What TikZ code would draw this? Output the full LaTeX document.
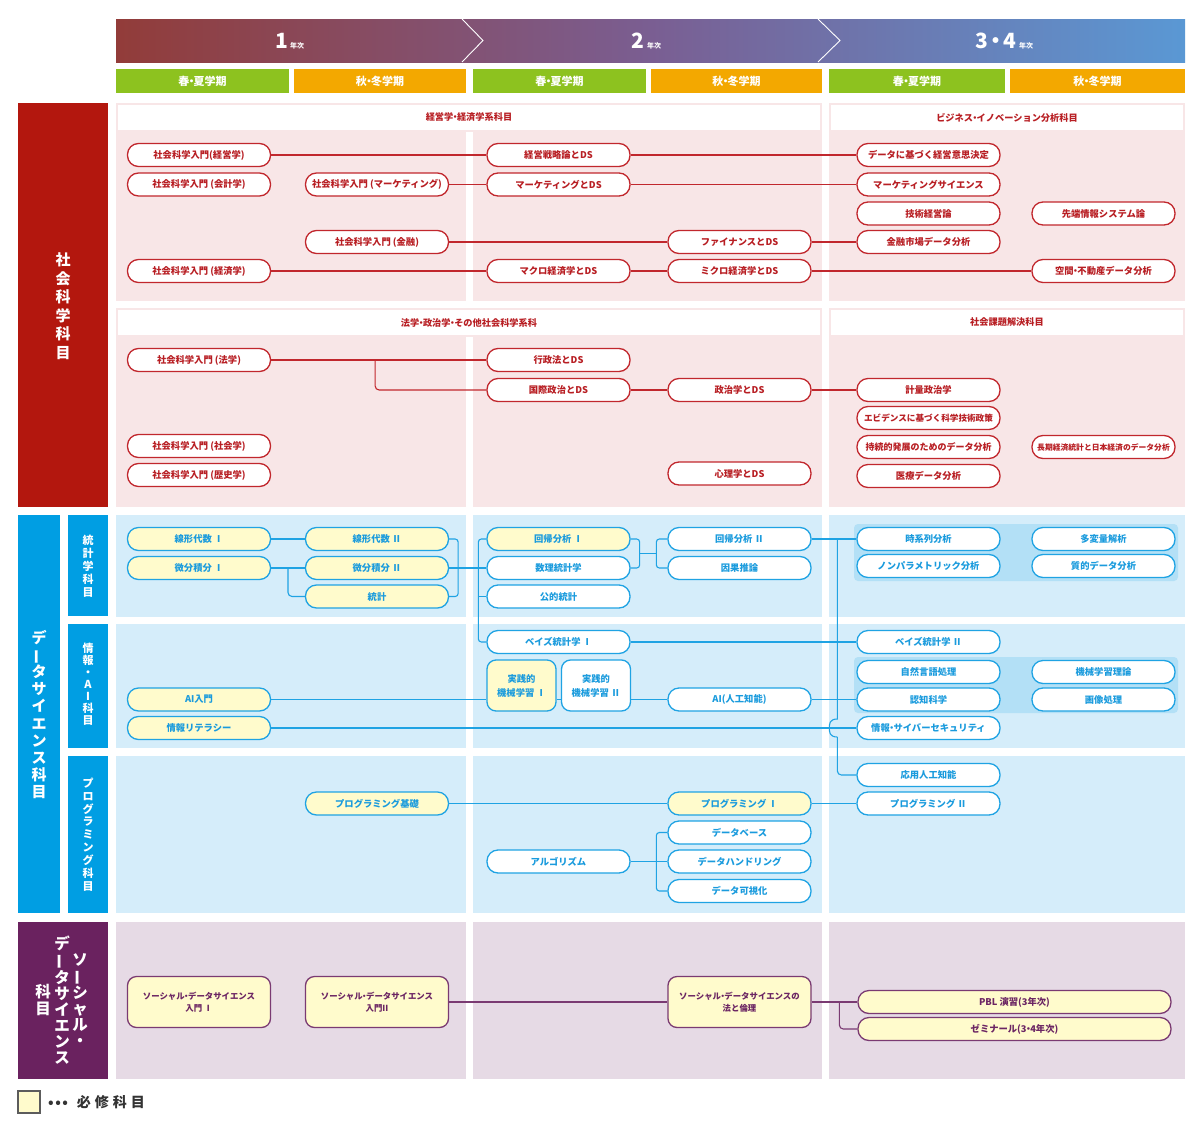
\documentclass[tikz,border=0pt]{standalone}
\usepackage{fontspec}
\setmainfont{Noto Sans CJK JP}
\usetikzlibrary{calc}
\definecolor{rd}{HTML}{C1272D}
\definecolor{rdtxt}{HTML}{B81E23}
\definecolor{rdbar}{HTML}{B3170E}
\definecolor{pk}{HTML}{F8E6E7}
\definecolor{bl}{HTML}{1FA3E3}
\definecolor{bltxt}{HTML}{1A9BDD}
\definecolor{blbar}{HTML}{009EE3}
\definecolor{blpanel}{HTML}{D5EDFA}
\definecolor{blgrp}{HTML}{B3E0F6}
\definecolor{pu}{HTML}{7A3A72}
\definecolor{putxt}{HTML}{6B2563}
\definecolor{pubar}{HTML}{6A225F}
\definecolor{pupanel}{HTML}{E6DAE5}
\definecolor{yl}{HTML}{FFFBCC}
\definecolor{gr}{HTML}{8DC21F}
\definecolor{orng}{HTML}{F3A800}
\definecolor{hdA}{HTML}{923C39}
\definecolor{hdB}{HTML}{7A5E92}
\definecolor{hdC}{HTML}{5A98D4}
\definecolor{lg}{HTML}{333333}
\newcommand{\vbar}{\rotatebox[origin=c]{90}{ー}}
\newcommand{\nd}{\kern-0.3em・\kern-0.3em}
\tikzset{
  base/.style={rounded corners=11pt, minimum width=143pt, minimum height=23pt, inner sep=0pt, line width=1.3pt, font=\fontsize{9.3}{10}\selectfont\bfseries, align=center},
  rn/.style={base, draw=rd, fill=white, text=rdtxt},
  bn/.style={base, draw=bl, fill=white, text=bltxt},
  bny/.style={bn, fill=yl},
  pn/.style={base, draw=pu, fill=yl, text=putxt},
  tallbox/.style={minimum height=51pt, rounded corners=9pt, font=\fontsize{8.4}{12}\selectfont\bfseries},
  mlbox/.style={minimum width=69pt, minimum height=51pt, rounded corners=9pt, font=\fontsize{9.3}{14}\selectfont\bfseries},
  rl/.style={draw=rd, line width=1.1pt},
  bll/.style={draw=bl, line width=1.1pt},
  pl/.style={draw=pu, line width=1.1pt},
  sem/.style={minimum height=24pt, inner sep=0pt, text=white, font=\fontsize{11}{11}\selectfont\bfseries},
  hd/.style={text=rdtxt, font=\fontsize{9.2}{9}\selectfont\bfseries},
  vlab/.style={text=white, align=center, inner sep=0pt},
}
\begin{document}
\begin{tikzpicture}[x=1pt,y=-1pt]
\useasboundingbox (0,0) rectangle (1203,1130);
\fill[white] (0,0) rectangle (1203,1130);

% ---------- header banner
\shade[left color=hdA, right color=hdC, middle color=hdB] (116,19) rectangle (1185,62);
\draw[white, line width=0.9pt] (462,19) -- (483,40.5) -- (462,62);
\draw[white, line width=0.9pt] (818,19) -- (840,40.5) -- (818,62);
\node[anchor=base east, inner sep=0pt, text=white, font=\fontsize{21}{21}\selectfont\bfseries] (y1) at (288,48) {1};
\node[anchor=base west, inner sep=0pt, text=white, font=\fontsize{7}{7}\selectfont\bfseries] (y1t) at (290,48) {年次};
\node[anchor=base east, inner sep=0pt, text=white, font=\fontsize{21}{21}\selectfont\bfseries] (y2) at (644,48) {2};
\node[anchor=base west, inner sep=0pt, text=white, font=\fontsize{7}{7}\selectfont\bfseries] (y2t) at (647,48) {年次};
\node[anchor=base east, inner sep=0pt, text=white, font=\fontsize{21}{21}\selectfont\bfseries] (y3) at (1016,48) {3\kern-0.15em・\kern-0.15em4};
\node[anchor=base west, inner sep=0pt, text=white, font=\fontsize{7}{7}\selectfont\bfseries] (y3t) at (1019,48) {年次};

% ---------- semester bars
\node[sem, fill=gr, minimum width=173pt] (m1) at (202.5,81) {春\nd 夏学期};
\node[sem, fill=orng, minimum width=172pt] (m2) at (380,81) {秋\nd 冬学期};
\node[sem, fill=gr, minimum width=173pt] (m3) at (559.5,81) {春\nd 夏学期};
\node[sem, fill=orng, minimum width=171pt] (m4) at (736.5,81) {秋\nd 冬学期};
\node[sem, fill=gr, minimum width=176pt] (m5) at (917,81) {春\nd 夏学期};
\node[sem, fill=orng, minimum width=175pt] (m6) at (1097.5,81) {秋\nd 冬学期};

% ---------- left bars
\fill[rdbar] (18,103) rectangle (108,507);
\fill[blbar] (18,515) rectangle (60,913);
\fill[blbar] (68,515) rectangle (108,616);
\fill[blbar] (68,624) rectangle (108,748);
\fill[blbar] (68,756) rectangle (108,913);
\fill[pubar] (18,922) rectangle (108,1079);

\node[vlab, font=\fontsize{15}{18.5}\selectfont\bfseries] (lab1) at (63,306) {社\\会\\科\\学\\科\\目};
\node[vlab, font=\fontsize{15}{17.2}\selectfont\bfseries] (lab2) at (39,714.5) {デ\\\vbar\\タ\\サ\\イ\\エ\\ン\\ス\\科\\目};
\node[vlab, font=\fontsize{11}{13}\selectfont\bfseries] (lab3) at (88,566) {統\\計\\学\\科\\目};
\node[vlab, font=\fontsize{11}{12}\selectfont\bfseries] (lab4) at (88,684) {情\\報\\・\\A\\I\\科\\目};
\node[vlab, font=\fontsize{11}{12.9}\selectfont\bfseries] (lab5) at (88,834.5) {プ\\ロ\\グ\\ラ\\ミ\\ン\\グ\\科\\目};
\node[vlab, font=\fontsize{15.5}{16}\selectfont\bfseries] (lab6a) at (80,1000) {ソ\\\vbar\\シ\\ャ\\ル\\・};
\node[vlab, font=\fontsize{15.5}{16}\selectfont\bfseries] (lab6b) at (62,1000) {デ\\\vbar\\タ\\サ\\イ\\エ\\ン\\ス};
\node[vlab, font=\fontsize{15.5}{16.5}\selectfont\bfseries] (lab6c) at (43,1000) {科\\目};

% ---------- pink panels
\fill[pk] (116,103) rectangle (822,301);
\fill[white] (118,105) rectangle (820,130);
\fill[white] (466,132) rectangle (473,301);
\fill[pk] (829,103) rectangle (1185,301);
\fill[white] (831,105) rectangle (1183,130);
\fill[pk] (116,308) rectangle (822,507);
\fill[white] (118,310) rectangle (820,335);
\fill[white] (466,337) rectangle (473,507);
\fill[pk] (829,308) rectangle (1185,507);
\fill[white] (831,310) rectangle (1183,335);
\node[hd] (h1) at (469,117.5) {経営学\nd 経済学系科目};
\node[hd] (h2) at (1007,117.5) {ビジネス\nd イノベーション分析科目};
\node[hd] (h3) at (469,322.5) {法学\nd 政治学\nd その他社会科学系科};
\node[hd] (h4) at (1007,322.5) {社会課題解決科目};

% ---------- blue panels
\foreach \ya/\yb in {515/617, 624/748, 756/913}{
  \fill[blpanel] (116,\ya) rectangle (466,\yb);
  \fill[blpanel] (473,\ya) rectangle (822,\yb);
  \fill[blpanel] (829,\ya) rectangle (1185,\yb);
}
\fill[blgrp, rounded corners=4pt] (854,524) rectangle (1178,581);
\fill[blgrp, rounded corners=4pt] (854,657) rectangle (1178,713);

% ---------- purple panels
\fill[pupanel] (116,922) rectangle (466,1079);
\fill[pupanel] (473,922) rectangle (822,1079);
\fill[pupanel] (829,922) rectangle (1185,1079);

% ---------- social science nodes
\node[rn] (s11) at (199,155) {社会科学入門(経営学)};
\node[rn] (s21) at (558.5,155) {経営戦略論とDS};
\node[rn] (s31) at (928.5,155) {データに基づく経営意思決定};
\node[rn] (s12) at (199,184.5) {社会科学入門 (会計学)};
\node[rn] (s12b) at (377,184.5) {社会科学入門 (マーケティング)};
\node[rn] (s22) at (558.5,184.5) {マーケティングとDS};
\node[rn] (s32) at (928.5,184.5) {マーケティングサイエンス};
\node[rn] (s33) at (928.5,213.5) {技術経営論};
\node[rn] (s34) at (1103.5,213.5) {先端情報システム論};
\node[rn] (s14) at (377,242) {社会科学入門 (金融)};
\node[rn] (s24) at (739.5,242) {ファイナンスとDS};
\node[rn] (s35) at (928.5,242) {金融市場データ分析};
\node[rn] (s15) at (199,271) {社会科学入門 (経済学)};
\node[rn] (s25) at (558.5,271) {マクロ経済学とDS};
\node[rn] (s26) at (739.5,271) {ミクロ経済学とDS};
\node[rn] (s36) at (1103.5,271) {空間\nd 不動産データ分析};

\node[rn] (l1) at (199,360) {社会科学入門 (法学)};
\node[rn] (l2) at (558.5,360) {行政法とDS};
\node[rn] (l3) at (558.5,390) {国際政治とDS};
\node[rn] (l4) at (739.5,390) {政治学とDS};
\node[rn] (l5) at (928.5,390) {計量政治学};
\node[rn, font=\fontsize{8.6}{10}\selectfont\bfseries] (l6) at (928.5,418) {エビデンスに基づく科学技術政策};
\node[rn] (l7) at (199,446) {社会科学入門 (社会学)};
\node[rn, font=\fontsize{9}{10}\selectfont\bfseries] (l8) at (928.5,447) {持続的発展のためのデータ分析};
\node[rn, font=\fontsize{7.8}{10}\selectfont\bfseries] (l9) at (1103.5,447) {長期経済統計と日本経済のデータ分析};
\node[rn] (l10) at (199,475) {社会科学入門 (歴史学)};
\node[rn] (l11) at (739.5,473.5) {心理学とDS};
\node[rn] (l12) at (928.5,476) {医療データ分析};

\draw[rl] (s11) -- (s21) -- (s31);
\draw[rl] (s12b) -- (s22) -- (s32);
\draw[rl] (s14) -- (s24) -- (s35);
\draw[rl] (s15) -- (s25) -- (s26) -- (s36);
\draw[rl] (l1) -- (l2);
\draw[rl, rounded corners=4pt] ($(l1.east)+(104,0)$) |- (l3.west);
\draw[rl] (l3) -- (l4) -- (l5);

% ---------- data science nodes
\node[bny] (d1) at (199,539) {線形代数 Ⅰ};
\node[bny] (d2) at (377,539) {線形代数 Ⅱ};
\node[bny] (d3) at (199,568) {微分積分 Ⅰ};
\node[bny] (d4) at (377,568) {微分積分 Ⅱ};
\node[bny] (d5) at (377,596.5) {統計};
\node[bny] (d6) at (558.5,539) {回帰分析 Ⅰ};
\node[bn] (d7) at (558.5,568) {数理統計学};
\node[bn] (d8) at (558.5,596.5) {公的統計};
\node[bn] (d9) at (739.5,539) {回帰分析 Ⅱ};
\node[bn] (d10) at (739.5,568) {因果推論};
\node[bn] (d11) at (928.5,539) {時系列分析};
\node[bn] (d12) at (928.5,566) {ノンパラメトリック分析};
\node[bn] (d13) at (1103.5,539) {多変量解析};
\node[bn] (d14) at (1103.5,566) {質的データ分析};

\node[bn] (i1) at (558.5,642) {ベイズ統計学 Ⅰ};
\node[bn] (i2) at (928.5,642) {ベイズ統計学 Ⅱ};
\node[bny, mlbox] (i3) at (521.5,685.5) {実践的\\機械学習 Ⅰ};
\node[bn, mlbox] (i4) at (596,685.5) {実践的\\機械学習 Ⅱ};
\node[bny] (i5) at (199,699.5) {AI入門};
\node[bny] (i6) at (199,728) {情報リテラシー};
\node[bn] (i7) at (739.5,699.5) {AI(人工知能)};
\node[bn] (i8) at (928.5,672) {自然言語処理};
\node[bn] (i9) at (1103.5,672) {機械学習理論};
\node[bn] (i10) at (928.5,699.5) {認知科学};
\node[bn] (i11) at (1103.5,699.5) {画像処理};
\node[bn] (i12) at (928.5,728) {情報\nd サイバーセキュリティ};

\node[bn] (p0) at (928.5,775) {応用人工知能};
\node[bny] (p1) at (377,803.5) {プログラミング基礎};
\node[bny] (p2) at (739.5,803.5) {プログラミング Ⅰ};
\node[bn] (p3) at (928.5,803.5) {プログラミング Ⅱ};
\node[bn] (p4) at (558.5,861.5) {アルゴリズム};
\node[bn] (p5) at (739.5,832.5) {データベース};
\node[bn] (p6) at (739.5,861.5) {データハンドリング};
\node[bn] (p7) at (739.5,891) {データ可視化};

\draw[bll] (d1) -- (d2);
\draw[bll] (d3) -- (d4);
\draw[bll, rounded corners=4pt] ($(d3.east)!0.5!(d4.west)$) |- (d5.west);
\draw[bll, rounded corners=3pt] (d2.east) -- ++(9,0) |- (d5.east);
\draw[bll] (d4.east) -- (d7.west);
\draw[bll, rounded corners=3pt] (d6.west) -- ++(-8,0) |- (i1.west);
\draw[bll] (d8.west) -- ++(-8,0);
\draw[bll, rounded corners=3pt] (d6.east) -- ++(9,0) |- (d7.east);
\draw[bll, rounded corners=3pt] (d9.west) -- ++(-11,0) |- (d10.west);
\draw[bll] ($(d6.east)!0.5!(d7.east)+(9,0)$) -- ($(d9.west)!0.5!(d10.west)+(-11,0)$);
\draw[bll] (d9) -- (d11);
\coordinate (J) at ($(d11.west)+(-19,0)$);
\coordinate (K) at (J |- i12.west);
\draw[bll] (J) -- ($(K)+(0,-9)$) .. controls ($(K)+(-8,-9)$) and ($(K)+(-8,-4)$) .. ($(K)+(-8,0)$) .. controls ($(K)+(-8,4)$) and ($(K)+(-8,9)$) .. ($(K)+(0,9)$);
\draw[bll, rounded corners=4pt] ($(K)+(0,9)$) -- (K |- p0.west) -- (p0.west);
\draw[bll] (i1) -- (i2);
\draw[bll] (i5.east) -- (i5.east -| i3.west);
\draw[bll] (i5.east -| i3.east) -- (i5.east -| i4.west);
\draw[bll] (i5.east -| i4.east) -- (i7.west);
\draw[bll] (i7) -- (i10);
\draw[bll] (i6) -- (i12);
\draw[bll] (p1) -- (p2) -- (p3);
\draw[bll] (p4) -- (p6);
\draw[bll, rounded corners=3pt] (p5.west) -- ++(-11,0) |- (p7.west);

% ---------- social data science nodes
\node[pn, tallbox] (q1) at (199,1002) {ソーシャル\nd データサイエンス\\入門 Ⅰ};
\node[pn, tallbox] (q2) at (377,1002) {ソーシャル\nd データサイエンス\\入門II};
\node[pn, tallbox] (q3) at (739.5,1002) {ソーシャル\nd データサイエンスの\\法と倫理};
\node[pn, minimum width=313pt] (q4) at (1014.5,1002) {PBL 演習(3年次)};
\node[pn, minimum width=313pt] (q5) at (1014.5,1029) {ゼミナール(3\nd 4年次)};
\draw[pl] (q2) -- (q3) -- (q4);
\draw[pl, rounded corners=4pt] ($(q4.west)+(-18,0)$) |- (q5.west);

% ---------- legend
\node[draw=lg!80, line width=1.2pt, fill=yl, minimum width=22pt, minimum height=22pt, inner sep=0pt] (lgbox) at (29,1102) {};
\node[anchor=west, inner sep=0pt, text=lg, font=\fontsize{14}{14}\selectfont\bfseries] (lgtxt) at (48,1102) {•\hspace{1.5pt}•\hspace{1.5pt}•\hspace{9pt}必\hspace{4pt}修\hspace{4pt}科\hspace{4pt}目};
\end{tikzpicture}
\end{document}
